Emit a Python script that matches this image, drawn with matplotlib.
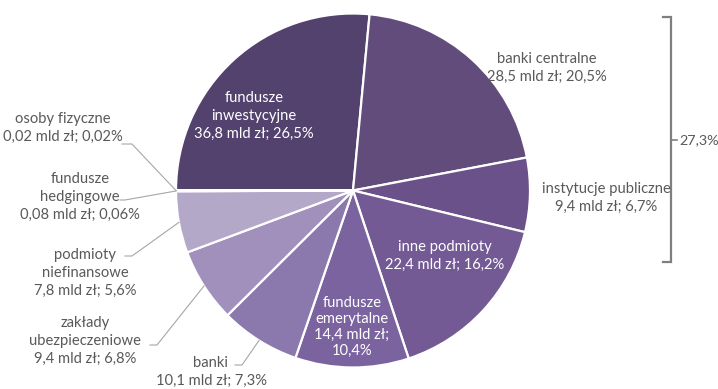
import numpy as np
import matplotlib
matplotlib.use("Agg")
import matplotlib.pyplot as plt

# Holdings by investor type (bn PLN) and their shares
categories = [
    "fundusze inwestycyjne", "banki centralne", "instytucje publiczne",
    "inne podmioty", "fundusze emerytalne", "banki",
    "zakłady ubezpieczeniowe", "podmioty niefinansowe",
    "fundusze hedgingowe", "osoby fizyczne",
]
values_bn = [36.8, 28.5, 9.4, 22.4, 14.4, 10.1, 9.4, 7.8, 0.08, 0.02]
value_labels = ["36,8", "28,5", "9,4", "22,4", "14,4", "10,1", "9,4", "7,8", "0,08", "0,02"]
share_labels = ["26,5%", "20,5%", "6,7%", "16,2%", "10,4%", "7,3%", "6,8%", "5,6%", "0,06%", "0,02%"]
bracket_label = "27,3%"

colors = ["#54426E", "#614C7B", "#6A5189", "#735A94", "#7B63A0",
          "#8B79AD", "#A18FBC", "#B4A8C9", "#C6BDD7", "#D7D1E3"]

W, H = 718, 389
fig = plt.figure(figsize=(W / 100, H / 100), dpi=100)
ax = fig.add_axes([0, 0, 1, 1])


def P(x, y):
    """Convert top-left based canvas coordinates to axes data coordinates."""
    return x, H - y


cx, cy = P(353, 190.5)
R = 177
wedges, _ = ax.pie(values_bn, colors=colors, startangle=180, counterclock=False,
                   center=(cx, cy), radius=R, frame=True,
                   wedgeprops=dict(edgecolor="white", linewidth=1.6))
ax.set_xlim(0, W)
ax.set_ylim(0, H)
ax.set_aspect("equal")
ax.axis("off")

FONT = ["Lato", "DejaVu Sans"]
GREY = "#595959"
FS = 10.6


def label_text(i, lines=None):
    name = lines if lines is not None else categories[i]
    return f"{name}\n{value_labels[i]} mld zł; {share_labels[i]}"


def put(x, y, s, color=GREY, ls=1.3):
    ax.text(*P(x, y), s, ha="center", va="center", color=color,
            fontsize=FS, family=FONT, linespacing=ls)


# labels inside the wedges
put(254, 116, label_text(0, "fundusze\ninwestycyjne"), color="white", ls=1.35)
put(445, 256, label_text(3), color="white")
put(352, 327, f"fundusze\nemerytalne\n{value_labels[4]} mld zł;\n{share_labels[4]}",
    color="white", ls=1.2)

# labels outside the pie
put(547, 68, label_text(1))
put(606, 198, label_text(2))
put(211, 372, label_text(5))
put(85, 341, label_text(6, "zakłady\nubezpieczeniowe"), ls=1.35)
put(85, 273, label_text(7, "podmioty\nniefinansowe"), ls=1.35)
put(80, 197, label_text(8, "fundusze\nhedgingowe"), ls=1.35)
put(63, 128, label_text(9))


def edge_point(i):
    w = wedges[i]
    mid = np.deg2rad((w.theta1 + w.theta2) / 2)
    return cx + R * np.cos(mid), cy + R * np.sin(mid)


# leader lines: short horizontal stub, then to the wedge rim
leaders = {5: (235, 242, 365), 6: (150, 157, 345), 7: (125, 132, 256),
           8: (120, 125, 200), 9: (122, 132, 144)}
for i, (x0, x1, y) in leaders.items():
    ex, ey = edge_point(i)
    xs = [P(x0, y)[0], P(x1, y)[0], ex]
    ys = [P(x0, y)[1], P(x1, y)[1], ey]
    ax.plot(xs, ys, color="#A6A6A6", lw=0.8, solid_joinstyle="miter")

# bracket grouping the first two wedges on the right
bx, top, bot, mid = 671, 17, 262, 140
ax.plot([663, bx, bx, 663], [P(0, top)[1], P(0, top)[1], P(0, bot)[1], P(0, bot)[1]],
        color="#7F7F7F", lw=1.6, solid_joinstyle="miter")
ax.plot([bx, 677], [P(0, mid)[1]] * 2, color="#7F7F7F", lw=1.2)
ax.text(*P(679, mid), bracket_label, ha="left", va="center", color=GREY,
        fontsize=10.4, family=FONT)

fig.savefig("out.png", dpi=100)
